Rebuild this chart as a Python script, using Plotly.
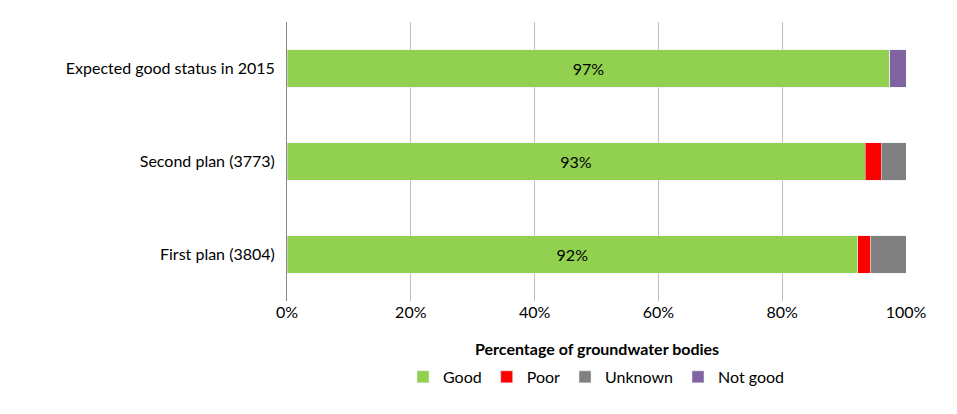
import plotly.graph_objects as go

categories = ["First plan (3804)", "Second plan (3773)", "Expected good status in 2015"]
good = [92.2, 93.4, 97.4]
poor = [2.1, 2.6, 0]
unknown = [5.7, 4.0, 0]
not_good = [0, 0, 2.6]
labels = ["92%", "93%", "97%"]

fig = go.Figure()
fig.add_bar(y=categories, x=good, name="Good", orientation="h", marker_color="#92D050",
            text=labels, textposition="inside", insidetextanchor="middle",
            textfont=dict(size=16, color="black"))
fig.add_bar(y=categories, x=poor, name="Poor", orientation="h", marker_color="#FF0000")
fig.add_bar(y=categories, x=unknown, name="Unknown", orientation="h", marker_color="#808080")
fig.add_bar(y=categories, x=not_good, name="Not good", orientation="h", marker_color="#8064A2")

# page offset of ~8px from the browser body margin
W, H, L, R, T, B = 941, 398, 279, 43, 14, 101
pw, ph = W - L - R, H - T - B
fig.update_layout(
    width=W, height=H, barmode="stack", bargap=0.6,
    margin=dict(l=L, r=R, t=T, b=B),
    plot_bgcolor="white", paper_bgcolor="white",
    font=dict(family="Lato, Open Sans, sans-serif", size=16, color="black"),
    xaxis=dict(range=[0, 100], tickvals=[0, 20, 40, 60, 80, 100],
               ticktext=["0%", "20%", "40%", "60%", "80%", "100%"],
               showgrid=True, gridcolor="#BFBFBF", zeroline=False, showline=False),
    yaxis=dict(showline=True, linecolor="#868686", ticks="", ticklabelstandoff=8),
    legend=dict(orientation="h", x=0.5, xanchor="center", y=-(374 - 297) / ph, yanchor="middle",
                font=dict(size=16), traceorder="normal", itemwidth=30),
    annotations=[dict(text="<b>Percentage of groundwater bodies</b>", x=0.5, xref="paper",
                      y=-(357 - 297) / ph, yref="paper", showarrow=False, font=dict(size=16))],
    shapes=[dict(type="rect", xref="paper", yref="paper",
                 x0=(-L - 7) / pw, x1=(W - L + 6) / pw, y0=-(B + 6) / ph, y1=(ph + T + 7) / ph,
                 line=dict(color="#868686", width=1))],
)
fig.write_html("out.html")
